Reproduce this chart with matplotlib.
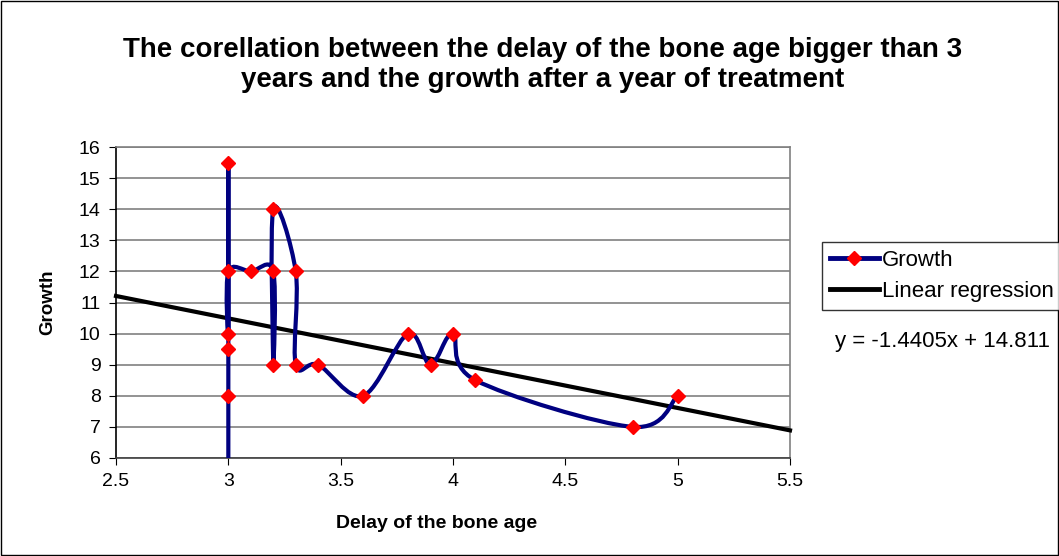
import numpy as np
import matplotlib.pyplot as plt
from matplotlib.path import Path
from matplotlib.patches import PathPatch, Rectangle
from matplotlib.lines import Line2D

plt.rcParams['font.family'] = ['Liberation Sans', 'DejaVu Sans']

# data, in the order the series was plotted
delay = [3, 3, 3, 3, 3, 3, 3.1, 3.2, 3.2, 3.2, 3.3, 3.3, 3.4, 3.6, 3.8, 3.9, 4.0, 4.1, 4.8, 5.0]
growth = [5, 8, 9.5, 15.5, 10, 12, 12, 12, 9, 14, 12, 9, 9, 8, 10, 9, 10, 8.5, 7, 8]
slope, intercept = -1.4405, 14.811
xticks = [2.5, 3, 3.5, 4, 4.5, 5, 5.5]
yticks = list(range(6, 17))


def smooth_path(x, y):
    # excel style smoothed line (catmull-rom bezier)
    pts = np.column_stack([x, y]).astype(float)
    n = len(pts)
    verts = [pts[0]]
    codes = [Path.MOVETO]
    for i in range(n - 1):
        p0 = pts[max(i - 1, 0)]
        p1 = pts[i]
        p2 = pts[i + 1]
        p3 = pts[min(i + 2, n - 1)]
        c1 = p1 + (p2 - p0) / 6
        c2 = p2 - (p3 - p1) / 6
        verts += [c1, c2, p2]
        codes += [Path.CURVE4] * 3
    return Path(verts, codes)


fig = plt.figure(figsize=(10.59, 5.56), dpi=100)
ax = fig.add_axes([116 / 1059, 1 - 458 / 556, (790 - 116) / 1059, (458 - 147) / 556])

fig.patches.append(Rectangle((0.001, 0.002), 0.998, 0.996, transform=fig.transFigure,
                             fill=False, edgecolor='black', linewidth=1))

ax.set_xlim(2.5, 5.5)
ax.set_ylim(6, 16)
ax.set_xticks(xticks)
ax.set_yticks(yticks)
ax.set_xticklabels([f'{t:g}' for t in xticks])
ax.tick_params(labelsize=14, direction='out', length=5, color='black', pad=6)
ax.grid(axis='y', color='#808080', linewidth=1.2)
ax.set_axisbelow(True)
for s in ax.spines.values():
    s.set_color('#808080')
    s.set_linewidth(1.2)
ax.spines['left'].set_color('black')
ax.spines['bottom'].set_color('#404040')

xr = np.array(xticks[:1] + xticks[-1:])
ax.plot(xr, slope * xr + intercept, color='black', linewidth=3, zorder=3, clip_on=False)

ax.add_patch(PathPatch(smooth_path(delay, growth), facecolor='none', edgecolor='#000080',
                       linewidth=3, zorder=4))
ax.plot(delay, growth, linestyle='none', marker='D', markersize=7, color='red', zorder=5)

fig.text(437 / 1059, 1 - 524 / 556, 'Delay of the bone age', fontsize=14, fontweight='bold',
         ha='center', va='center')
ax.set_ylabel('Growth', fontsize=13.5, fontweight='bold', labelpad=16)
fig.text(0.512, 1 - 65 / 556, 'The corellation between the delay of the bone age bigger than 3\n'
         'years and the growth after a year of treatment', ha='center', va='center',
         fontsize=20, fontweight='bold', linespacing=1.2)

handles = [Line2D([], [], color='#000080', linewidth=3.5, marker='D', markersize=7,
                  markerfacecolor='red', markeredgecolor='red'),
           Line2D([], [], color='black', linewidth=3.5)]
leg = fig.legend(handles, ['Growth', 'Linear regression'], loc='upper left',
                 bbox_to_anchor=(822 / 1059, 1 - 242 / 556), fontsize=16, frameon=True,
                 fancybox=False, edgecolor='black', handlelength=2.2, handletextpad=0.15,
                 borderpad=0.35, labelspacing=0.45, borderaxespad=0)
leg.get_frame().set_linewidth(1)
fig.text(835 / 1059, 1 - 342 / 556, 'y = -1.4405x + 14.811', fontsize=16, va='center')

fig.savefig('out.png', dpi=100)
